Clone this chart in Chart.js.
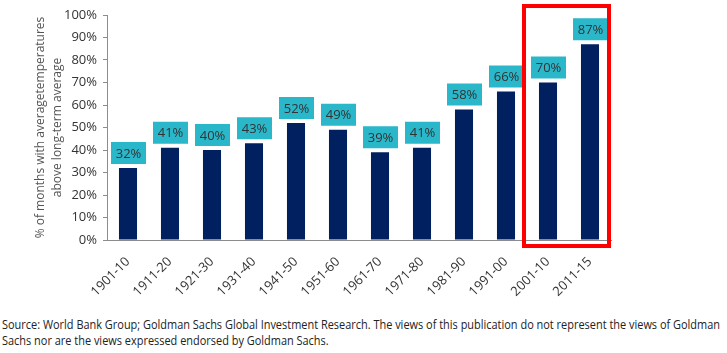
<!DOCTYPE html>
<html>
<head>
<meta charset="utf-8">
<script src="https://cdn.jsdelivr.net/npm/chart.js@4.4.0/dist/chart.umd.min.js"></script>
<style>
    body { margin: 0; background: #fff; width: 727px; height: 353px; overflow: hidden; }
    .chart-container { position: absolute; left: 0; top: 0; width: 727px; height: 300px; }
    .source { position: absolute; left: 2px; top: 317px; font-family: "Liberation Sans Narrow", "Open Sans", sans-serif;
              font-size: 12px; line-height: 16px; color: #222; white-space: nowrap; transform-origin: 0 0; }
</style>
</head>
<body>
    <div class="chart-container">
        <canvas id="decadeChart" width="727" height="300"></canvas>
    </div>
    <div class="source" id="source">
        <div id="srcLine1">Source: World Bank Group; Goldman Sachs Global Investment Research. The views of this publication do not represent the views of Goldman</div>
        <div>Sachs nor are the views expressed endorsed by Goldman Sachs.</div>
    </div>

<script>
    // decades and share of months above long-term average (%)
    var decades = ['1901-10', '1911-20', '1921-30', '1931-40', '1941-50', '1951-60',
                   '1961-70', '1971-80', '1981-90', '1991-00', '2001-10', '2011-15'];
    var shareAbove = [32, 41, 40, 43, 52, 49, 39, 41, 58, 66, 70, 87];
    var highlighted = ['2001-10', '2011-15'];
    var yTitle = ['% of months with averagetemperatures', 'above long-term average'];

    var barColor = '#002060';
    var boxColor = '#2bb7ca';

    // teal boxes with the value above each bar
    var valueBoxes = {
        id: 'valueBoxes',
        afterDatasetsDraw: function (chart) {
            var ctx = chart.ctx;
            var meta = chart.getDatasetMeta(0);
            ctx.save();
            ctx.font = '13px "Open Sans", sans-serif';
            ctx.textAlign = 'center';
            ctx.textBaseline = 'middle';
            meta.data.forEach(function (bar, i) {
                var w = 35, h = 22;
                var cx = bar.x + 0.5;
                var bottom = bar.y - 4;
                ctx.fillStyle = boxColor;
                ctx.fillRect(cx - w / 2, bottom - h, w, h);
                ctx.fillStyle = '#333';
                ctx.fillText(shareAbove[i] + '%', cx, bottom - h / 2 + 1);
            });
            ctx.restore();
        }
    };

    // red frame around the highlighted decades
    var highlightFrame = {
        id: 'highlightFrame',
        afterDraw: function (chart) {
            var x = chart.scales.x;
            var first = decades.indexOf(highlighted[0]);
            var last = decades.indexOf(highlighted[highlighted.length - 1]);
            var left = (x.getPixelForValue(first - 1) + x.getPixelForValue(first)) / 2 - 3;
            var right = (x.getPixelForValue(last) + x.getPixelForValue(last + 1)) / 2 - 2;
            var top = chart.chartArea.top - 9;
            var bottom = chart.chartArea.bottom + 6;
            var ctx = chart.ctx;
            ctx.save();
            ctx.strokeStyle = '#ff0000';
            ctx.lineWidth = 4;
            ctx.strokeRect(left, top, right - left, bottom - top);
            ctx.restore();
        }
    };

    var ctx = document.getElementById('decadeChart').getContext('2d');
    var chart = new Chart(ctx, {
        type: 'bar',
        data: {
            labels: decades,
            datasets: [{
                data: shareAbove,
                backgroundColor: barColor,
                barPercentage: 0.43,
                categoryPercentage: 1.0
            }]
        },
        options: {
            responsive: false,
            animation: false,
            layout: { padding: { top: 15, right: 116, left: 0, bottom: 0 } },
            scales: {
                x: {
                    grid: { display: false, drawOnChartArea: false, drawTicks: true, tickLength: 5, offset: true, color: '#8c8c8c' },
                    border: { color: '#8c8c8c' },
                    ticks: {
                        color: '#333',
                        font: { family: '"Open Sans", sans-serif', size: 13 },
                        minRotation: 45, maxRotation: 45, padding: 9
                    },
                    afterFit: function (scale) { scale.height = 60; }
                },
                y: {
                    min: 0, max: 100,
                    grid: { drawOnChartArea: false, tickLength: 4, color: '#8c8c8c' },
                    border: { color: '#8c8c8c' },
                    ticks: {
                        stepSize: 10,
                        color: '#333',
                        padding: 6,
                        font: { family: '"Open Sans", sans-serif', size: 13 },
                        callback: function (v) { return v + '%'; }
                    },
                    title: {
                        display: true,
                        text: yTitle,
                        color: '#555',
                        font: { family: '"Open Sans", sans-serif', size: 12, lineHeight: 1.4 },
                        padding: { top: 32, bottom: 0 }
                    },
                    afterFit: function (scale) { scale.width = 107; }
                }
            },
            plugins: {
                legend: { display: false },
                tooltip: { enabled: false }
            }
        },
        plugins: [valueBoxes, highlightFrame]
    });

    // stretch source note to the page width
    var src = document.getElementById('source');
    var line1 = document.getElementById('srcLine1');
    var w = line1.getBoundingClientRect().width;
    src.style.transform = 'scaleX(' + (718 / w) + ')';
</script>
</body>
</html>
